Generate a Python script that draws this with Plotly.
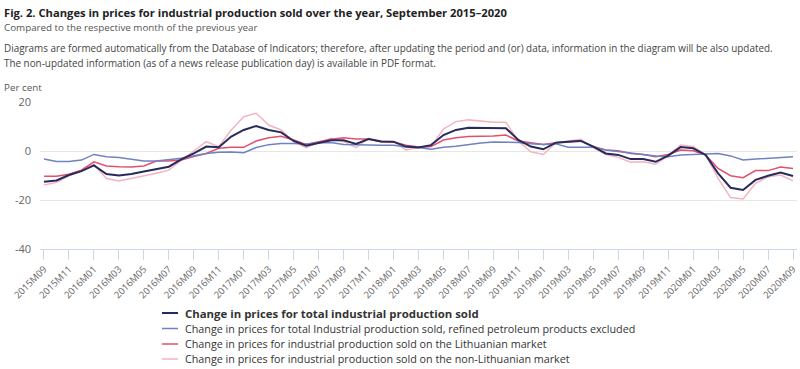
import plotly.graph_objects as go

months = []
y, m = 2015, 9
for _ in range(61):
    months.append(f"{y}M{m:02d}")
    m += 1
    if m > 12:
        m = 1
        y += 1

total = [-12.5, -12.0, -9.8, -8.2, -5.9, -9.4, -10.0, -9.4, -8.4, -7.3, -6.4, -3.4, -1.0, 1.8, 1.5,
         5.9, 8.6, 10.2, 8.6, 7.6, 4.1, 2.2, 3.4, 4.4, 4.4, 2.9, 4.9, 3.9, 3.8, 1.8, 1.4,
         2.4, 6.5, 8.6, 9.5, 9.5, 9.3, 9.3, 4.5, 1.8, 0.7, 3.4, 3.8, 4.1, 1.8, -1.0,
         -1.6, -3.3, -3.3, -4.4, -1.9, 1.6, 1.1, -1.6, -9.1, -15.0, -15.9, -11.8, -10.1, -8.8, -10.2]
excl_petro = [-3.3, -4.3, -4.3, -3.7, -1.4, -2.3, -2.7, -3.4, -4.1, -4.1, -3.4, -3.0, -1.9, -1.0, -0.5,
              -0.4, -0.7, 1.4, 2.6, 3.1, 3.1, 2.9, 3.4, 3.5, 2.7, 2.4, 2.4, 2.3, 2.3, 1.6, 1.4,
              0.7, 1.5, 1.9, 2.7, 3.3, 3.7, 3.7, 3.5, 3.0, 2.7, 2.9, 1.5, 1.5, 1.5, 0.4,
              -0.3, -1.0, -1.4, -2.0, -2.3, -1.6, -1.4, -1.4, -1.0, -2.0, -3.7, -3.3, -3.0, -2.6, -2.3]
lithuanian = [-10.3, -10.3, -9.5, -7.8, -4.4, -6.1, -6.4, -6.5, -6.1, -4.1, -4.1, -3.7, -2.3, -1.0, 1.1,
              1.5, 1.5, 4.1, 5.4, 6.0, 4.5, 2.7, 3.8, 4.8, 5.4, 4.9, 4.9, 3.8, 3.7, 2.4, 1.6,
              1.8, 4.5, 5.4, 5.9, 5.9, 6.1, 6.5, 4.1, 3.4, 2.7, 3.4, 3.8, 4.2, 1.8, 0.4,
              0.1, -1.0, -1.4, -2.3, -1.4, 0.4, 0.1, -1.6, -7.1, -10.1, -10.9, -8.0, -8.0, -6.5, -7.1]
non_lithuanian = [-13.9, -12.8, -10.1, -8.2, -5.4, -11.2, -12.2, -11.2, -10.1, -9.1, -7.8, -3.7, 0.0, 3.8, 1.8,
                  8.6, 14.0, 15.4, 10.6, 8.6, 3.8, 1.4, 3.5, 5.2, 3.8, 1.4, 5.2, 4.1, 3.8, 0.4, 1.4,
                  1.8, 9.0, 12.0, 12.7, 12.2, 11.7, 11.7, 4.1, -0.3, -1.4, 3.4, 4.1, 4.8, 1.4, -1.4,
                  -2.6, -4.6, -4.4, -5.4, -1.9, 2.4, 1.8, -1.4, -11.2, -19.0, -19.6, -13.2, -10.5, -9.8, -12.2]

series_names = [
    "<b>Change in prices for total industrial production sold</b>",
    "Change in prices for total Industrial production sold, refined petroleum products excluded",
    "Change in prices for industrial production sold on the Lithuanian market",
    "Change in prices for industrial production sold on the non-Lithuanian market",
]
series_values = [total, excl_petro, lithuanian, non_lithuanian]
colors = ["#272a5c", "#6f82c4", "#e0506f", "#f6b3bf"]
widths = [2, 1.5, 1.5, 1.5]

tick_months = months[::2]
y_ticks = [-40, -20, 0, 20]

fig = go.Figure()
# draw in reverse so the dark line is on top
for name, vals, col, w in reversed(list(zip(series_names, series_values, colors, widths))):
    fig.add_trace(go.Scatter(x=months, y=vals, mode="lines", name=name,
                             line=dict(color=col, width=w), hoverinfo="x+y",
                             showlegend=False))

L, R, T, B = 40, 797, 102, 249
W, H = 800, 369
pw, ph = R - L, B - T

def px(x):
    return (x - L) / pw

def py(y):
    return (B - y) / ph

font = "Open Sans, Noto Sans, sans-serif"
annotations = [
    dict(text="<b>Fig. 2. Changes in prices for industrial production sold over the year, September 2015–2020</b>",
         x=px(2), y=py(12), font=dict(size=11.2, color="#222222")),
    dict(text="Compared to the respective month of the previous year",
         x=px(2), y=py(27), font=dict(size=9.8, color="#555555")),
    dict(text="Diagrams are formed automatically from the Database of Indicators; therefore, after updating the period and (or) data, information in the diagram will be also updated.",
         x=px(2), y=py(48), font=dict(size=9.9, color="#444444")),
    dict(text="The non-updated information (as of a news release publication day) is available in PDF format.",
         x=px(2), y=py(63), font=dict(size=9.9, color="#444444")),
    dict(text="Per cent", x=px(2), y=py(87), font=dict(size=9.8, color="#555555")),
]

# custom legend (compact spacing like the reference)
legend_rows = [313, 328.5, 344, 359]
legend_sizes = [11.4, 10.75, 10.75, 10.75]
shapes = []
for name, col, w, ry, fs in zip(series_names, colors, widths, legend_rows, legend_sizes):
    annotations.append(dict(text=name, x=px(183), y=py(ry),
                            font=dict(size=fs, color="#333333")))
    shapes.append(dict(type="line", xref="paper", yref="paper",
                       x0=px(162), x1=px(178), y0=py(ry), y1=py(ry),
                       line=dict(color=col, width=w)))

for a in annotations:
    a.update(xref="paper", yref="paper", xanchor="left", yanchor="middle", showarrow=False)
    a["font"]["family"] = font

fig.update_layout(
    width=W, height=H,
    margin=dict(l=L, r=W - R, t=T, b=H - B, autoexpand=False),
    paper_bgcolor="white", plot_bgcolor="white",
    font=dict(family=font, color="#666666"),
    annotations=annotations,
    shapes=shapes,
    showlegend=False,
    xaxis=dict(type="category", range=[-0.32, 60.32],
               tickmode="array", tickvals=tick_months, ticktext=tick_months,
               tickangle=-45, tickfont=dict(size=9.5, color="#666666"),
               ticks="outside", ticklen=10, tickcolor="#ccd6eb",
               showline=True, linecolor="#ccd6eb", showgrid=False, zeroline=False),
    yaxis=dict(range=[-40, 20], tickvals=y_ticks, ticktext=[str(v) for v in y_ticks],
               tickfont=dict(size=11, color="#666666"),
               showgrid=True, gridcolor="#e6e6e6", zeroline=False, showline=False,
               ticks="", ticklabelstandoff=8),
)

fig.write_html("out.html", config={"displayModeBar": False},
               post_script="document.body.style.margin='0';document.body.style.overflow='hidden';")
